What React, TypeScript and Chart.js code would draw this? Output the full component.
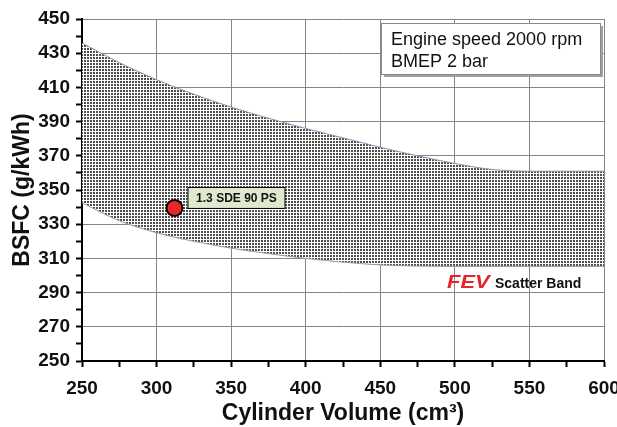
import React, { useEffect, useRef } from "react";
import { Chart, registerables } from "chart.js";

Chart.register(...registerables);

// ---- data ----
const bandVolumes = [250, 275, 300, 325, 350, 375, 400, 425, 450, 475, 500, 525, 550, 575, 600];
const bandUpper = [436, 424.5, 414.5, 406, 398.5, 392, 386, 380.5, 375, 370, 365.5, 362, 361, 361, 361];
const bandLower = [342.5, 332, 325, 320, 316, 312.8, 310, 307.8, 306.2, 305.5, 305.3, 305.3, 305.3, 305.3, 305.3];
const engineVolume = [312];
const engineBsfc = [339.5];
const engineLabel = "1.3 SDE 90 PS";
const infoLines = ["Engine speed 2000 rpm", "BMEP 2 bar"];
const bandBrand = "FEV";
const bandName = "Scatter Band";
const xTitle = "Cylinder Volume (cm\u00B3)";
const yTitle = "BSFC (g/kWh)";

const FONT = "'Liberation Sans', Arial, sans-serif";

function makePattern(ctx: CanvasRenderingContext2D) {
  const c = document.createElement("canvas");
  c.width = 3;
  c.height = 3;
  const g = c.getContext("2d")!;
  g.fillStyle = "#ffffff";
  g.fillRect(0, 0, 3, 3);
  g.fillStyle = "#4e4e4e";
  g.fillRect(0, 0, 2, 2);
  return ctx.createPattern(c, "repeat");
}

const annotations = {
  id: "annotations",
  afterDatasetsDraw(chart: any) {
    const { ctx, chartArea, scales } = chart;
    ctx.save();
    // info box
    const bw = 219, bh = 51;
    const bx = chartArea.right - 4 - bw;
    const by = chartArea.top + 4;
    ctx.fillStyle = "#a0a0a0";
    ctx.fillRect(bx + 3, by + 3, bw, bh);
    ctx.fillStyle = "#ffffff";
    ctx.fillRect(bx, by, bw, bh);
    ctx.strokeStyle = "#8a8a8a";
    ctx.lineWidth = 1;
    ctx.strokeRect(bx + 0.5, by + 0.5, bw, bh);
    ctx.fillStyle = "#111";
    ctx.font = `18px ${FONT}`;
    ctx.textBaseline = "middle";
    ctx.textAlign = "left";
    ctx.fillText(infoLines[0], bx + 10, by + 17);
    ctx.fillText(infoLines[1], bx + 10, by + 39);

    // point label
    const px = scales.x.getPixelForValue(engineVolume[0]);
    const py = scales.y.getPixelForValue(engineBsfc[0]);
    const lx = px + 13, ly = py - 21, lw = 97, lh = 21;
    ctx.fillStyle = "#dfe9cf";
    ctx.fillRect(lx, ly, lw, lh);
    ctx.strokeStyle = "#000";
    ctx.strokeRect(lx + 0.5, ly + 0.5, lw, lh);
    ctx.fillStyle = "#111";
    ctx.font = `bold 12px ${FONT}`;
    ctx.textAlign = "center";
    ctx.fillText(engineLabel, lx + lw / 2 + 0.5, ly + lh / 2 + 1);

    // FEV scatter band tag
    const fy = scales.y.getPixelForValue(295) - 1;
    const fx = chartArea.left + 365;
    ctx.save();
    ctx.translate(fx, fy);
    ctx.scale(1.22, 1);
    ctx.font = `italic bold 18px ${FONT}`;
    ctx.fillStyle = "#e3262b";
    ctx.textAlign = "left";
    ctx.fillText(bandBrand, 0, 0);
    ctx.restore();
    ctx.fillStyle = "#111";
    ctx.font = `bold 14px ${FONT}`;
    ctx.textAlign = "left";
    ctx.fillText(bandName, fx + 48, fy + 1);
    ctx.restore();
  },
};

export default function App() {
  const ref = useRef<HTMLCanvasElement | null>(null);
  useEffect(() => {
    const canvas = ref.current!;
    const ctx = canvas.getContext("2d")!;
    const pattern = makePattern(ctx);
    const chart = new Chart(ctx, {
      type: "line",
      data: {
        datasets: [
          {
            type: "scatter",
            label: "engine",
            data: engineVolume.map((v, i) => ({ x: v, y: engineBsfc[i] })),
            pointRadius: 8,
            pointBackgroundColor: "#e8262d",
            pointBorderColor: "#000",
            pointBorderWidth: 2,
            showLine: false,
          } as any,
          {
            label: "upper",
            data: bandVolumes.map((v, i) => ({ x: v, y: bandUpper[i] })),
            borderColor: "#8b93b0",
            borderWidth: 1,
            pointRadius: 0,
            cubicInterpolationMode: "monotone",
            fill: false,
          },
          {
            label: "lower",
            data: bandVolumes.map((v, i) => ({ x: v, y: bandLower[i] })),
            borderColor: "#9a9a9a",
            borderWidth: 1,
            pointRadius: 0,
            cubicInterpolationMode: "monotone",
            fill: 1,
            backgroundColor: pattern as any,
          },
        ],
      },
      options: {
        animation: false,
        responsive: false,
        devicePixelRatio: 1,
        layout: { padding: { top: 19, right: 13, left: 0, bottom: 0 } },
        plugins: { legend: { display: false }, tooltip: { enabled: false } },
        scales: {
          x: {
            type: "linear",
            min: 250,
            max: 600,
            ticks: {
              stepSize: 25,
              autoSkip: false,
              maxRotation: 0,
              padding: 10,
              color: "#111",
              font: { family: FONT, size: 19, weight: "bold" },
              callback: (v: any) => (v % 50 === 0 ? String(v) : ""),
            },
            grid: {
              color: (c: any) => (c.tick && c.tick.value % 50 === 0 ? "#858585" : "rgba(0,0,0,0)"),
              tickColor: "#000",
              tickLength: 6,
              tickWidth: 2,
              lineWidth: 1,
            },
            border: { color: "#000", width: 2 },
            title: {
              display: true,
              text: xTitle,
              color: "#111",
              font: { family: FONT, size: 23, weight: "bold" },
              padding: { top: 0, bottom: 0 },
            },
            afterFit: (s: any) => {
              s.height = 66;
              s.paddingLeft = 0;
              s.paddingRight = 0;
            },
          },
          y: {
            min: 250,
            max: 450,
            ticks: {
              stepSize: 10,
              autoSkip: false,
              padding: 6,
              color: "#111",
              font: { family: FONT, size: 19, weight: "bold" },
              callback: (v: any) => ((v - 250) % 20 === 0 ? String(v) : ""),
            },
            grid: {
              color: (c: any) => (c.tick && (c.tick.value - 250) % 20 === 0 ? "#858585" : "rgba(0,0,0,0)"),
              tickColor: "#000",
              tickLength: 6,
              tickWidth: 2,
              lineWidth: 1,
            },
            border: { color: "#000", width: 2 },
            title: {
              display: true,
              text: yTitle,
              color: "#111",
              font: { family: FONT, size: 23, weight: "bold" },
              padding: { top: 9, bottom: 0 },
            },
            afterFit: (s: any) => {
              s.width = 82;
              s.paddingTop = 0;
              s.paddingBottom = 0;
            },
          },
        },
      },
      plugins: [annotations],
    });
    return () => chart.destroy();
  }, []);
  return (
    <div style={{ position: "fixed", left: 0, top: 0, width: 617, height: 427, background: "#fff" }}>
      <canvas ref={ref} width={617} height={427} style={{ display: "block", width: 617, height: 427 }} />
    </div>
  );
}
